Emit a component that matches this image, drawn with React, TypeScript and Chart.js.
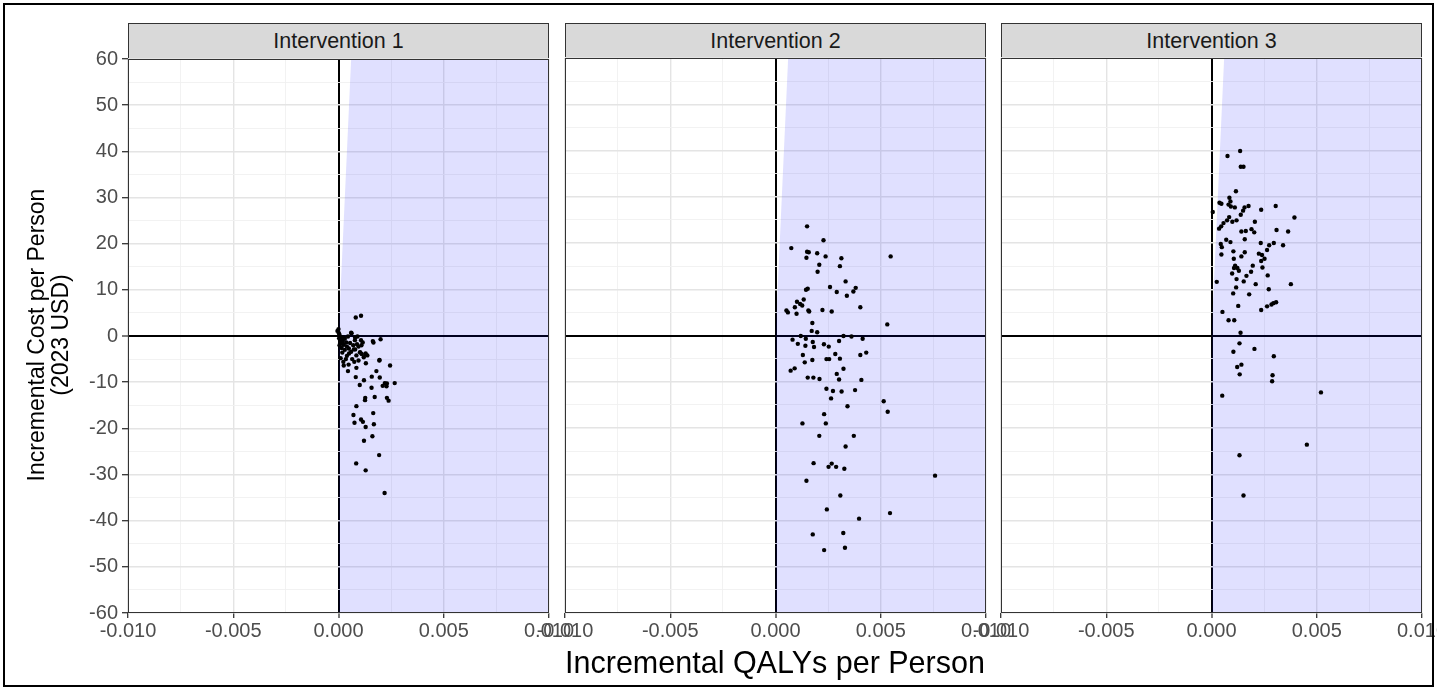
import React, { useEffect, useRef } from "react";
import { Chart, registerables } from "chart.js";

Chart.register(...registerables);

// ---------- data ----------
const panelTitles = ["Intervention 1", "Intervention 2", "Intervention 3"];
const xTickLabels = ["-0.010", "-0.005", "0.000", "0.005", "0.010"];
const yTickLabels = ["-60", "-50", "-40", "-30", "-20", "-10", "0", "10", "20", "30", "40", "50", "60"];
const xMin = -0.01;
const xMax = 0.01;
const yMin = -60;
const yMax = 60;
const wtp = 100000; // willingness-to-pay threshold ($/QALY)

const qaly1 = [
  0.00082, 0.00107, 0.00062, 0.00079, 0.0009, 0.00115, 0.00109, 0.00166, 0.002, 0.00095,
  0.00079, 0.00102, 0.0011, 0.00129, 0.00137, 0.00194, 0.0013, 0.00025, 0.00048, 0.00075,
  0.00045, 0.00085, 0.00245, 0.0018, 0.00082, 0.00121, 0.00158, 0.00196, 0.00101, 0.00267,
  0.0021, 0.0022, 0.00228, 0.0023, 0.00157, 0.00127, 0.00126, 0.00172, 0.0023, 0.00238,
  0.00085, 0.00071, 0.00165, 0.00107, 0.00116, 0.00076, 0.00129, 0.00168, 0.00161, 0.00121,
  0.00193, 0.00084, 0.00129, 0.00219,
  0.0, -0.00005, 0.00002, 0.00005, 0.0001, 0.00003, 0.00015, 0.00008, 0.0002, 0.0003,
  0.0006, 0.00078, 0.00107, 0.00163, 0.00037, 0.00012, 0.00025, 0.00005, 0.0004, 0.00049,
  0.00073, 0.00015, 0.0003, 0.0006, 0.00104, 0.00128, 0.0012, 0.0004, 0.00065, 0.00023,
  0.00195, 0.00018, 0.0005, 0.00085, 0.0001, 0.00035, 0.00088, 0.00055, 0.0007, 0.00022,
  0.00045, 0.00095,
];
const cost1 = [
  4.0, 4.4, 0.6, -0.3, -0.1, -1.4, -2.0, -1.4, -0.7, -2.3,
  -2.9, -3.5, -3.9, -3.8, -4.2, -5.3, -5.9, -6.4, -6.2, -5.6,
  -7.6, -6.9, -6.4, -7.6, -8.9, -9.6, -8.8, -9.0, -10.6, -10.2,
  -10.8, -10.2, -10.9, -10.3, -11.2, -13.4, -13.9, -13.2, -13.4, -14.0,
  -15.2, -17.1, -16.7, -18.1, -18.6, -18.8, -19.7, -19.1, -21.7, -22.7,
  -25.8, -27.6, -29.1, -34.0,
  1.5, 1.1, 0.6, 0.2, -0.2, -0.5, -0.8, -1.0, -1.2, -0.6,
  0.7, -0.9, -0.9, -1.1, -1.4, -1.6, -1.9, -2.0, -2.3, -2.7,
  -2.9, -2.6, -3.0, -3.4, -3.6, -4.0, -4.6, -4.3, -5.0, -5.6,
  -5.2, -3.6, -3.8, -4.2, -4.8, -5.0, -1.8, -1.5, -2.0, -0.3,
  -0.1, -5.3,
];

const qaly2 = [
  0.0015, 0.00228, 0.00075, 0.0015, 0.00158, 0.00198, 0.00147, 0.00238, 0.00313, 0.00547,
  0.00208, 0.00306, 0.002, 0.00333, 0.00259, 0.00381, 0.00145, 0.00153, 0.00291, 0.0037,
  0.00339, 0.00134, 0.00102, 0.00117, 0.00092, 0.00127, 0.00052, 0.00059, 0.001, 0.00156,
  0.0016, 0.00223, 0.00267, 0.00403, 0.00531, 0.00175, 0.00172, 0.00198, 0.0012, 0.00081,
  0.00144, 0.00106, 0.00142, 0.00177, 0.00183, 0.0023, 0.00253, 0.00302, 0.00323, 0.00361,
  0.00414, 0.0013, 0.00175, 0.00139, 0.00242, 0.00255, 0.00284, 0.00306, 0.00403, 0.00431,
  0.00072, 0.00091, 0.00323, 0.00291, 0.00302, 0.00153, 0.0018, 0.00209, 0.00408, 0.00242,
  0.00273, 0.00314, 0.00378, 0.00264, 0.00514, 0.00342, 0.00533, 0.00231, 0.00128, 0.00239,
  0.00208, 0.00372, 0.00333, 0.00181, 0.00267, 0.00252, 0.00288, 0.00327, 0.00758, 0.00147,
  0.00308, 0.00244, 0.00544, 0.00397, 0.00177, 0.00322, 0.00231, 0.0033,
];
const cost2 = [
  23.6, 20.6, 18.9, 18.1, 18.0, 17.8, 16.8, 17.1, 16.7, 17.1,
  15.3, 15.0, 13.8, 11.7, 10.5, 10.3, 9.9, 10.1, 9.4, 9.5,
  8.6, 7.8, 7.3, 6.8, 6.1, 6.5, 5.4, 5.0, 4.7, 5.4,
  5.2, 5.5, 5.2, 6.1, 2.4, 2.7, 1.0, 0.7, -0.1, -0.9,
  -0.7, -1.8, -2.2, -1.4, -2.5, -1.9, -2.4, -1.2, -0.1, -0.2,
  -0.7, -4.2, -5.3, -5.8, -5.1, -5.1, -4.0, -5.0, -4.2, -3.7,
  -7.6, -7.1, -7.2, -8.3, -9.5, -9.1, -9.1, -9.4, -9.6, -11.5,
  -12.0, -12.1, -11.8, -13.6, -14.2, -15.3, -16.5, -17.0, -19.0, -19.0,
  -21.7, -21.7, -24.0, -27.6, -27.7, -28.4, -28.4, -28.8, -30.3, -31.4,
  -34.6, -37.6, -38.4, -39.6, -43.0, -42.7, -46.4, -45.9,
];

const qaly3 = [
  0.00136, 0.00076, 0.00139, 0.00152, 0.00116, 0.00085, 0.00038, 0.00047, 0.0009, 0.00081,
  0.00092, 0.00111, 0.00157, 0.00176, 0.00305, 0.00006, 0.0015, 0.00236, 0.00139, 0.00084,
  0.00394, 0.00074, 0.00099, 0.00119, 0.00206, 0.00057, 0.00046, 0.00036, 0.00142, 0.00163,
  0.0019, 0.00203, 0.00309, 0.00364, 0.00158, 0.0007, 0.0009, 0.00044, 0.00234, 0.00296,
  0.00274, 0.0034, 0.00049, 0.00264, 0.00047, 0.00104, 0.00158, 0.00142, 0.00225, 0.0024,
  0.00106, 0.00252, 0.00236, 0.00112, 0.00123, 0.00107, 0.0013, 0.00196, 0.00242, 0.00098,
  0.00188, 0.00166, 0.00267, 0.00119, 0.00153, 0.00025, 0.0021, 0.00377, 0.00117, 0.00272,
  0.00103, 0.00179, 0.00127, 0.00264, 0.00285, 0.00294, 0.00307, 0.00236, 0.00052, 0.00081,
  0.00108, 0.00138, 0.00133, 0.00204, 0.00104, 0.00296, 0.00142, 0.00122, 0.00134, 0.0029,
  0.00288, 0.00051, 0.0052, 0.00453, 0.00133, 0.00152,
];
const cost3 = [
  39.9, 38.8, 36.5, 36.5, 31.2, 29.8, 28.7, 28.5, 29.0, 28.3,
  27.9, 27.7, 27.7, 28.0, 28.0, 26.7, 27.0, 27.2, 26.1, 25.6,
  25.5, 24.9, 24.6, 24.9, 24.6, 24.3, 23.6, 23.1, 22.5, 22.6,
  23.0, 22.3, 22.8, 22.5, 20.8, 20.7, 20.2, 19.8, 20.0, 20.0,
  19.5, 19.5, 19.1, 18.5, 17.5, 18.2, 18.0, 17.1, 17.7, 17.4,
  16.6, 16.6, 16.1, 15.1, 14.6, 14.6, 14.0, 15.1, 14.7, 13.4,
  13.8, 12.9, 13.0, 12.2, 11.7, 11.6, 11.1, 11.1, 10.4, 10.0,
  9.1, 8.9, 6.4, 6.3, 6.7, 7.0, 7.2, 5.5, 5.1, 3.3,
  3.3, 0.6, -1.7, -2.9, -3.5, -4.5, -6.3, -6.8, -8.4, -8.6,
  -9.9, -13.0, -12.3, -23.6, -25.9, -34.6,
];

const panelQaly = [qaly1, qaly2, qaly3];
const panelCost = [cost1, cost2, cost3];

// ---------- layout ----------
const FONT = "'Liberation Sans', Arial, sans-serif";
const PLOT_TOP = 58;
const PLOT_H = 555;
const PLOT_W = 421;
const PLOT_LEFTS = [128, 565, 1001];
const PAD_T = 15;
const PAD_SIDE = 34;
const X_AXIS_H = 40;
const Y_AXIS_W = 128;

const framePlugin = {
  id: "panelFrame",
  afterDatasetsDraw(chart: any) {
    const { ctx, chartArea: a } = chart;
    ctx.save();
    ctx.strokeStyle = "#333333";
    ctx.lineWidth = 1;
    ctx.strokeRect(a.left + 0.5, a.top + 0.5, a.right - a.left - 1, a.bottom - a.top - 1);
    ctx.restore();
  },
};

const isZero = (v: number) => Math.abs(v) < 1e-12;

function Panel({ idx }: { idx: number }) {
  const ref = useRef<HTMLCanvasElement | null>(null);
  const showY = idx === 0;
  const plotLeft = PLOT_LEFTS[idx];
  const canvasLeft = showY ? plotLeft - Y_AXIS_W : plotLeft - PAD_SIDE;
  const canvasW = (showY ? Y_AXIS_W : PAD_SIDE) + PLOT_W + PAD_SIDE;
  const canvasH = PAD_T + PLOT_H + X_AXIS_H;

  useEffect(() => {
    if (!ref.current) return;
    const qaly = panelQaly[idx];
    const cost = panelCost[idx];
    const points = qaly.map((x, k) => ({ x, y: cost[k] }));
    const shade = [
      { x: 0, y: 0 },
      { x: yMax / wtp, y: yMax },
      { x: xMax, y: yMax },
    ];
    const gridColor = (ctx: any) =>
      isZero(ctx.tick.value) ? "#000000" : ctx.index % 2 === 0 ? "#E4E4E4" : "#F0F0F0";
    const gridWidth = (ctx: any) =>
      isZero(ctx.tick.value) ? 2 : ctx.index % 2 === 0 ? 1.4 : 0.9;
    const tickColor = (ctx: any) => (ctx.index % 2 === 0 ? "#333333" : "rgba(0,0,0,0)");

    const chart = new Chart(ref.current, {
      type: "scatter",
      data: {
        datasets: [
          {
            data: points,
            pointRadius: 2.2,
            pointHoverRadius: 2.2,
            pointBackgroundColor: "#000000",
            pointBorderWidth: 0,
            borderColor: "#000000",
          },
          {
            data: shade,
            showLine: true,
            fill: { value: yMin },
            backgroundColor: "rgba(0,0,255,0.12)",
            borderColor: "rgba(0,0,0,0)",
            borderWidth: 0,
            pointRadius: 0,
            pointHoverRadius: 0,
          },
        ],
      },
      options: {
        animation: false,
        responsive: false,
        events: [],
        layout: {
          padding: { left: showY ? 0 : PAD_SIDE, right: PAD_SIDE, top: PAD_T, bottom: 0 },
        },
        plugins: {
          legend: { display: false },
          tooltip: { enabled: false },
        },
        scales: {
          x: {
            type: "linear",
            min: xMin,
            max: xMax,
            border: { display: false },
            grid: {
              color: gridColor,
              lineWidth: gridWidth,
              tickColor,
              tickLength: 5,
              tickWidth: 1.3,
              drawTicks: true,
            },
            ticks: {
              stepSize: 0.0025,
              autoSkip: false,
              maxRotation: 0,
              color: "#4D4D4D",
              padding: 1,
              font: { family: FONT, size: 20 },
              callback: (_v: any, i: number) => (i % 2 === 0 ? xTickLabels[i / 2] : ""),
            },
            afterFit: (s: any) => {
              s.height = X_AXIS_H;
            },
          },
          y: {
            type: "linear",
            min: yMin,
            max: yMax,
            border: { display: false },
            grid: {
              color: gridColor,
              lineWidth: gridWidth,
              tickColor,
              tickLength: 6,
              tickWidth: 1.3,
              drawTicks: showY,
            },
            ticks: {
              display: showY,
              stepSize: 5,
              autoSkip: false,
              color: "#4D4D4D",
              padding: 4,
              font: { family: FONT, size: 20 },
              callback: (_v: any, i: number) => (i % 2 === 0 ? yTickLabels[i / 2] : ""),
            },
            afterFit: (s: any) => {
              s.width = showY ? Y_AXIS_W : 0;
            },
          },
        },
      },
      plugins: [framePlugin],
    } as any);
    return () => chart.destroy();
  }, [idx]);

  return (
    <>
      <div
        style={{
          position: "absolute",
          left: plotLeft,
          top: 23,
          width: PLOT_W,
          height: PLOT_TOP - 23 + 1,
          boxSizing: "border-box",
          border: "1px solid #333333",
          background: "#D9D9D9",
          display: "flex",
          alignItems: "center",
          justifyContent: "center",
          fontFamily: FONT,
          fontSize: 21.5,
          color: "#1A1A1A",
        }}
      >
        {panelTitles[idx]}
      </div>
      <canvas
        ref={ref}
        width={canvasW}
        height={canvasH}
        style={{
          position: "absolute",
          left: canvasLeft,
          top: PLOT_TOP - PAD_T,
          width: canvasW,
          height: canvasH,
        }}
      />
    </>
  );
}

export default function App() {
  return (
    <div
      style={{
        position: "absolute",
        left: 0,
        top: 0,
        width: 1437,
        height: 690,
        overflow: "hidden",
        background: "#FFFFFF",
      }}
    >
      {[0, 1, 2].map((i) => (
        <Panel key={i} idx={i} />
      ))}
      <div
        style={{
          position: "absolute",
          left: 375,
          width: 800,
          top: 645,
          textAlign: "center",
          fontFamily: FONT,
          fontSize: 30.5,
          color: "#000000",
          lineHeight: "34px",
        }}
      >
        Incremental QALYs per Person
      </div>
      <div
        style={{
          position: "absolute",
          left: 48 - 250,
          top: 335 - 24,
          width: 500,
          height: 48,
          transform: "rotate(-90deg)",
          textAlign: "center",
          fontFamily: FONT,
          fontSize: 23,
          lineHeight: "24px",
          color: "#000000",
        }}
      >
        Incremental Cost per Person
        <br />
        (2023 USD)
      </div>
      <div
        style={{
          position: "absolute",
          left: 3,
          top: 3,
          width: 1431,
          height: 684,
          boxSizing: "border-box",
          border: "2px solid #000000",
          pointerEvents: "none",
        }}
      />
    </div>
  );
}
